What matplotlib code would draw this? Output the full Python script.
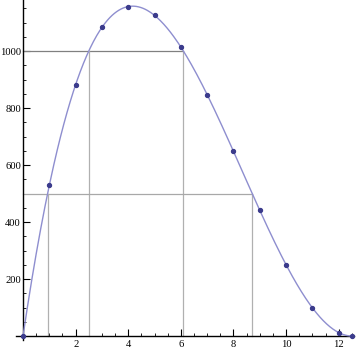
import numpy as np
import matplotlib.pyplot as plt

# side of the cut-out square vs. volume of the box
side = [0, 1, 2, 3, 4, 5, 6, 7, 8, 9, 10, 11, 12, 12.5]
volume = [0, 529, 882, 1083, 1156, 1125, 1014, 847, 648, 441, 250, 99, 12, 0]
levels = [1000, 500]

xticks = [2, 4, 6, 8, 10, 12]
yticks = [200, 400, 600, 800, 1000]

plt.rcParams['font.family'] = ['Liberation Serif', 'DejaVu Serif']

fig = plt.figure(figsize=(3.6, 3.51), dpi=100)
ax = fig.add_axes([0, 0, 1, 1])
ax.set_xlim(-0.875, 12.81)
ax.set_ylim(-52.6, 1179)

# smooth curve through the table values (cubic fit)
coef = np.polyfit(side, volume, 3)
xs = np.linspace(0, 12.5, 300)
ax.plot(xs, np.polyval(coef, xs), color='#8e8ecf', lw=1.0, zorder=3)
ax.scatter(side, volume, s=8, color='#3b3b8c', zorder=4)

# where the curve crosses each level
for lev in levels:
    r = np.roots(coef - np.array([0, 0, 0, lev]))
    r = np.sort(r[np.isreal(r)].real)
    r = r[(r > 0) & (r < 12.5)]
    col = '#808080' if lev == 1000 else '#a8a8a8'
    ax.plot([0, r[-1]], [lev, lev], color=col, lw=0.9, zorder=2)
    for xr in r:
        ax.plot([xr, xr], [0, lev], color='#b0b0b0', lw=0.9, zorder=2)

# Mathematica-style axes through the origin
for s in ['top', 'right']:
    ax.spines[s].set_visible(False)
ax.spines['left'].set_position(('data', 0))
ax.spines['bottom'].set_position(('data', 0))
ax.spines['bottom'].set_bounds(-0.27, 12.6)
ax.spines['left'].set_bounds(-15, 1179)
ax.spines['left'].set_linewidth(1.0)
ax.spines['bottom'].set_linewidth(1.0)

ax.set_xticks(xticks)
ax.set_yticks(yticks)
ax.set_xticks(np.arange(0.5, 12.6, 0.5), minor=True)
ax.set_yticks(np.arange(50, 1179, 50), minor=True)
ax.tick_params(which='major', direction='in', length=5, width=0.8, labelsize=7.6)
ax.tick_params(which='minor', direction='in', length=2.5, width=0.6)
ax.tick_params(axis='y', which='major', pad=1.5)
ax.tick_params(axis='x', which='major', pad=3)

fig.savefig('out.png', dpi=100)
